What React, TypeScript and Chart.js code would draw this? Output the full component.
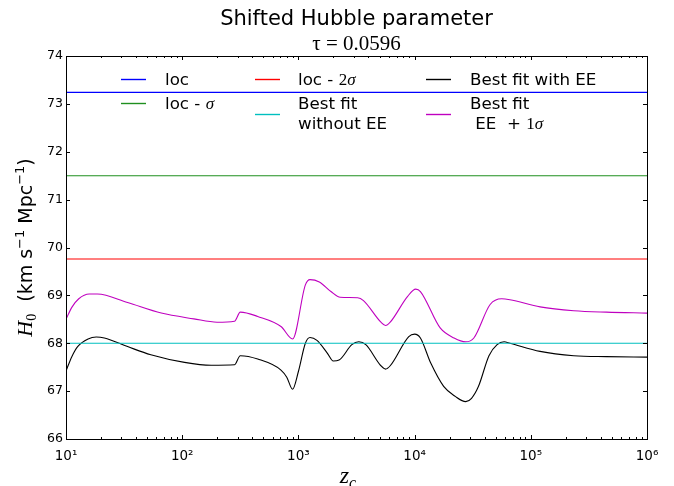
import React, { useEffect, useRef } from 'react';
import { Chart, registerables } from 'chart.js';

Chart.register(...registerables);

// ---- data ----
const xRange = [10, 1e6];
const locH0 = 73.24;
const locMinusSigma = 71.5;
const locMinus2Sigma = 69.76;
const bestFitWithoutEE = 68.0;

const zBestFitEE = [10, 11.22, 12.59, 15.49, 18.2, 21.38, 33.88, 53.7, 104.7, 177.8, 281.8, 316.2, 446.7, 707.9, 794.3, 891.3, 1000, 1148, 1259, 1445, 1778, 1995, 2239, 2884, 3311, 3802, 5129, 5623, 6166, 8913, 10000, 11220, 13804, 17783, 22387, 27542, 30903, 35481, 43652, 51286, 58884, 66069, 120226, 234423, 446684, 1000000];
const hBestFitEE = [67.42, 67.72, 67.93, 68.09, 68.13, 68.11, 67.93, 67.76, 67.6, 67.54, 67.55, 67.74, 67.67, 67.44, 67.29, 67.04, 67.41, 68.0, 68.12, 68.06, 67.79, 67.63, 67.65, 67.97, 68.03, 67.97, 67.53, 67.46, 67.53, 68.14, 68.19, 68.11, 67.58, 67.1, 66.89, 66.78, 66.85, 67.1, 67.74, 67.97, 68.03, 68.0, 67.83, 67.74, 67.72, 67.71];

const zBestFitEEPlus1 = [10, 11.22, 12.88, 15.85, 18.62, 33.88, 66.07, 125.9, 199.5, 281.8, 316.2, 446.7, 707.9, 891.3, 1148, 1259, 1514, 1905, 2291, 3236, 3631, 5129, 5623, 6166, 8710, 10233, 11220, 16596, 21878, 27542, 32359, 44668, 56234, 66069, 120226, 234423, 446684, 1000000];
const hBestFitEEPlus1 = [68.5, 68.75, 68.93, 69.03, 69.03, 68.85, 68.63, 68.51, 68.44, 68.46, 68.65, 68.56, 68.35, 68.09, 69.22, 69.33, 69.28, 69.08, 68.96, 68.95, 68.89, 68.44, 68.37, 68.44, 68.98, 69.13, 69.08, 68.32, 68.11, 68.03, 68.11, 68.81, 68.93, 68.91, 68.76, 68.68, 68.65, 68.63];

const yTicks = [66, 67, 68, 69, 70, 71, 72, 73, 74];
const xTickExponents = [1, 2, 3, 4, 5, 6];

const titleText = 'Shifted Hubble parameter';
const subtitleText = 'τ = 0.0596';

const SANS = '"DejaVu Sans", sans-serif';
const SERIF = '"Liberation Serif", "DejaVu Serif", serif';

const COLORS = {
  loc: '#0000ff',
  locSigma: '#1f8f1f',
  loc2Sigma: '#ff0000',
  noEE: '#00bfbf',
  withEE: '#000000',
  plus1: '#bf00bf',
};

const SUP: Record<string, string> = { '0': '⁰', '1': '¹', '2': '²', '3': '³', '4': '⁴', '5': '⁵', '6': '⁶', '7': '⁷', '8': '⁸', '9': '⁹' };

type Part = { t: string; f: string; dy?: number };

function partsWidth(ctx: CanvasRenderingContext2D, parts: Part[]) {
  let w = 0;
  for (const p of parts) {
    ctx.font = p.f;
    w += ctx.measureText(p.t).width;
  }
  return w;
}

function drawRich(ctx: CanvasRenderingContext2D, parts: Part[], x: number, y: number, center = false) {
  let cx = center ? x - partsWidth(ctx, parts) / 2 : x;
  for (const p of parts) {
    ctx.font = p.f;
    ctx.fillText(p.t, cx, y + (p.dy || 0));
    cx += ctx.measureText(p.t).width;
  }
}

const decorPlugin = {
  id: 'decor',
  afterDraw(chart: any) {
    const ctx: CanvasRenderingContext2D = chart.ctx;
    const { left, right, top, bottom } = chart.chartArea;
    const xs = chart.scales.x;
    const ys = chart.scales.y;
    ctx.save();
    ctx.fillStyle = '#000';
    ctx.textBaseline = 'alphabetic';
    ctx.textAlign = 'left';

    // frame
    ctx.strokeStyle = '#000';
    ctx.lineWidth = 1;
    ctx.strokeRect(Math.round(left) + 0.5, Math.round(top) + 0.5, Math.round(right - left), Math.round(bottom - top));

    // ticks
    ctx.beginPath();
    for (const e of xTickExponents) {
      const base = Math.pow(10, e);
      const px = Math.round(xs.getPixelForValue(base)) + 0.5;
      ctx.moveTo(px, bottom); ctx.lineTo(px, bottom - 4);
      ctx.moveTo(px, top); ctx.lineTo(px, top + 4);
      if (base < xRange[1]) {
        for (let m = 2; m <= 9; m++) {
          const mp = Math.round(xs.getPixelForValue(base * m)) + 0.5;
          ctx.moveTo(mp, bottom); ctx.lineTo(mp, bottom - 2);
          ctx.moveTo(mp, top); ctx.lineTo(mp, top + 2);
        }
      }
    }
    for (const v of yTicks) {
      const py = Math.round(ys.getPixelForValue(v)) + 0.5;
      ctx.moveTo(left, py); ctx.lineTo(left + 4, py);
      ctx.moveTo(right, py); ctx.lineTo(right - 4, py);
    }
    ctx.stroke();

    // title
    ctx.font = `21px ${SANS}`;
    ctx.textAlign = 'center';
    ctx.fillText(titleText, (left + right) / 2, 25);
    ctx.font = `21px ${SERIF}`;
    ctx.fillText(subtitleText, (left + right) / 2, 50);
    ctx.textAlign = 'left';

    // legend
    const lf = `16.7px ${SANS}`;
    const mf = `italic 17px ${SERIF}`;
    const rf = `17px ${SERIF}`;
    const seg = (x: number, y: number, c: string) => {
      ctx.strokeStyle = c;
      ctx.lineWidth = 1.4;
      ctx.beginPath();
      ctx.moveTo(x, y + 0.5);
      ctx.lineTo(x + 25, y + 0.5);
      ctx.stroke();
    };
    seg(121, 79, COLORS.loc);
    drawRich(ctx, [{ t: 'loc', f: lf }], 165, 85);
    seg(121, 103, COLORS.locSigma);
    drawRich(ctx, [{ t: 'loc - ', f: lf }, { t: 'σ', f: mf }], 165, 109);

    seg(255, 79, COLORS.loc2Sigma);
    drawRich(ctx, [{ t: 'loc - ', f: lf }, { t: '2', f: rf }, { t: 'σ', f: mf }], 298, 85);
    seg(255, 114, COLORS.noEE);
    drawRich(ctx, [{ t: 'Best fit', f: lf }], 298, 109);
    drawRich(ctx, [{ t: 'without EE', f: lf }], 298, 129);

    seg(426, 79, COLORS.withEE);
    drawRich(ctx, [{ t: 'Best fit with EE', f: lf }], 470, 85);
    seg(426, 114, COLORS.plus1);
    drawRich(ctx, [{ t: 'Best fit', f: lf }], 470, 109);
    drawRich(ctx, [{ t: ' EE  + ', f: lf }, { t: '1', f: rf }, { t: 'σ', f: mf }], 470, 129);

    // y-axis title
    ctx.save();
    ctx.translate(32, (top + bottom) / 2);
    ctx.rotate(-Math.PI / 2);
    const yParts: Part[] = [
      { t: 'H', f: `italic 22px ${SERIF}` },
      { t: '0', f: `14px ${SERIF}`, dy: 4 },
      { t: '  (km s', f: `19px ${SANS}` },
      { t: '−1', f: `13px ${SANS}`, dy: -8 },
      { t: ' Mpc', f: `19px ${SANS}` },
      { t: '−1', f: `13px ${SANS}`, dy: -8 },
      { t: ')', f: `19px ${SANS}` },
    ];
    drawRich(ctx, yParts, 0, 0, true);
    ctx.restore();

    // x-axis title
    drawRich(ctx, [
      { t: 'z', f: `italic 24px ${SERIF}` },
      { t: 'c', f: `italic 16px ${SERIF}`, dy: 5 },
    ], 348, 483, true);

    ctx.restore();
  },
};

export default function App() {
  const canvasRef = useRef<HTMLCanvasElement | null>(null);

  useEffect(() => {
    const canvas = canvasRef.current;
    if (!canvas) return;
    const flat = (v: number, label: string, color: string) => ({
      label,
      data: [{ x: xRange[0], y: v }, { x: xRange[1], y: v }],
      borderColor: color,
      borderWidth: 1.1,
      pointRadius: 0,
      fill: false,
    });
    const chart = new Chart(canvas, {
      type: 'line',
      data: {
        datasets: [
          flat(locH0, 'loc', COLORS.loc),
          flat(locMinusSigma, 'loc - σ', COLORS.locSigma),
          flat(locMinus2Sigma, 'loc - 2σ', COLORS.loc2Sigma),
          flat(bestFitWithoutEE, 'Best fit without EE', COLORS.noEE),
          {
            label: 'Best fit with EE',
            data: zBestFitEE.map((z, i) => ({ x: z, y: hBestFitEE[i] })),
            borderColor: COLORS.withEE,
            borderWidth: 1.1,
            pointRadius: 0,
            cubicInterpolationMode: 'monotone',
            fill: false,
          },
          {
            label: 'Best fit EE + 1σ',
            data: zBestFitEEPlus1.map((z, i) => ({ x: z, y: hBestFitEEPlus1[i] })),
            borderColor: COLORS.plus1,
            borderWidth: 1.1,
            pointRadius: 0,
            cubicInterpolationMode: 'monotone',
            fill: false,
          },
        ],
      },
      options: {
        animation: false,
        responsive: false,
        maintainAspectRatio: false,
        events: [],
        layout: { padding: { top: 56, right: 27, left: 0, bottom: 0 } },
        plugins: {
          legend: { display: false },
          title: { display: false },
          tooltip: { enabled: false },
        },
        scales: {
          x: {
            type: 'logarithmic',
            min: xRange[0],
            max: xRange[1],
            grid: { display: false, drawTicks: false },
            border: { display: false },
            afterBuildTicks: (scale: any) => {
              scale.ticks = xTickExponents.map((e) => ({ value: Math.pow(10, e) }));
            },
            afterFit: (scale: any) => { scale.height = 47; },
            ticks: {
              autoSkip: false,
              maxRotation: 0,
              padding: 9,
              color: '#000',
              font: { family: 'DejaVu Sans', size: 13.5 },
              callback: (v: any) => {
                const e = Math.round(Math.log10(Number(v)));
                return '10' + String(e).split('').map((c) => SUP[c]).join('');
              },
            },
          },
          y: {
            type: 'linear',
            min: 66,
            max: 74,
            grid: { display: false, drawTicks: false },
            border: { display: false },
            afterFit: (scale: any) => { scale.width = 66; },
            ticks: {
              stepSize: 1,
              padding: 3,
              color: '#000',
              font: { family: 'DejaVu Sans', size: 12.5 },
            },
          },
        },
      },
      plugins: [decorPlugin],
    } as any);
    return () => chart.destroy();
  }, []);

  return (
    <div style={{ position: 'absolute', left: 0, top: 0, width: 674, height: 486, background: '#fff' }}>
      <canvas ref={canvasRef} width={674} height={486} style={{ width: 674, height: 486, display: 'block' }} />
    </div>
  );
}
